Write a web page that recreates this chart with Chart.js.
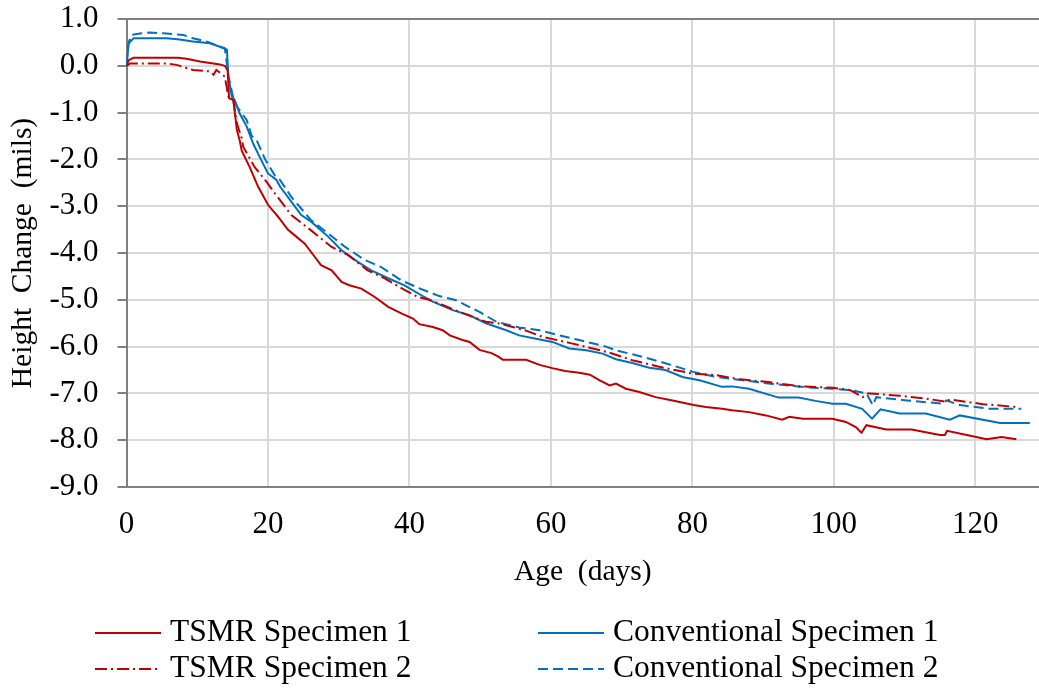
<!DOCTYPE html>
<html>
<head>
<meta charset="utf-8">
<title>Height Change vs Age</title>
<script src="https://cdn.jsdelivr.net/npm/chart.js@4.4.1/dist/chart.umd.min.js"></script>
<style>
  html, body { margin: 0; padding: 0; background: #fff; }
  #wrap { width: 1039px; height: 690px; }
</style>
</head>
<body>
<div id="wrap"><canvas id="chart" width="1039" height="690"></canvas></div>
<script>
// Series data (age in days, height change in mils)
const tsmr1Days = [0, 0.3, 1, 3, 5, 7.3, 8.5, 10.4, 11.8, 13.2, 13.9, 14.3, 14.5, 15.1, 15.6, 16.0, 16.3, 17.4, 18.6, 20, 21.4, 22.8, 24, 25.2, 26.6, 27.5, 29, 30.4, 31.5, 33.2, 35.1, 37, 39, 40.5, 41.4, 43.3, 44.7, 45.7, 47.5, 48.5, 49.9, 51.6, 52.5, 53.2, 56.5, 58.4, 60.2, 62, 64, 65.5, 66.9, 68.3, 69.2, 70.6, 72.5, 74.8, 77.2, 80.2, 81.9, 84.2, 85.6, 88, 90.4, 92.7, 93.7, 95.6, 99.8, 101.7, 103.1, 103.9, 104.6, 107.4, 111, 115, 115.7, 116, 118.8, 121.6, 123.7, 125.8];
const tsmr1Vals = [0, 0.12, 0.17, 0.17, 0.17, 0.17, 0.15, 0.09, 0.06, 0.03, 0.0, -0.1, -0.69, -0.73, -1.37, -1.59, -1.82, -2.16, -2.58, -2.97, -3.22, -3.5, -3.65, -3.8, -4.08, -4.26, -4.37, -4.62, -4.69, -4.76, -4.94, -5.15, -5.3, -5.4, -5.52, -5.58, -5.65, -5.76, -5.86, -5.9, -6.07, -6.14, -6.21, -6.28, -6.28, -6.39, -6.46, -6.52, -6.56, -6.6, -6.72, -6.83, -6.79, -6.9, -6.97, -7.08, -7.15, -7.25, -7.29, -7.33, -7.36, -7.4, -7.47, -7.56, -7.5, -7.54, -7.54, -7.61, -7.72, -7.84, -7.68, -7.77, -7.77, -7.89, -7.89, -7.8, -7.89, -7.98, -7.93, -7.98];

const tsmr2Days = [0, 0.5, 3, 5.7, 7.1, 9.4, 11.8, 12.3, 12.7, 13.9, 14.4, 15.1, 15.6, 16.3, 16.5, 18.1, 19.8, 21, 23.3, 25.7, 29, 31.3, 34.1, 36.5, 39.3, 41.2, 42.8, 44.7, 47.1, 50.8, 52.5, 54.6, 56.5, 58.8, 62.6, 65.9, 68.3, 71.5, 75.3, 80.1, 83.4, 86.7, 90.4, 95.2, 99.9, 102.3, 104.1, 104.8, 105.1, 109.3, 113, 115.9, 116.4, 121.1, 125.8];
const tsmr2Vals = [0, 0.05, 0.05, 0.05, 0.02, -0.09, -0.12, -0.19, -0.09, -0.23, -0.66, -0.73, -1.23, -1.55, -1.73, -2.16, -2.48, -2.73, -3.19, -3.47, -3.87, -4.04, -4.37, -4.54, -4.79, -4.94, -5.0, -5.11, -5.26, -5.47, -5.5, -5.58, -5.66, -5.79, -5.92, -6.04, -6.13, -6.29, -6.43, -6.58, -6.61, -6.7, -6.75, -6.85, -6.88, -6.93, -7.08, -7.0, -7.0, -7.05, -7.11, -7.18, -7.13, -7.23, -7.29];

const conv1Days = [0, 0.3, 1, 3.3, 5.7, 7.5, 9.4, 11.8, 13.9, 14.2, 14.4, 14.9, 15.3, 16, 17, 17.9, 18.8, 20, 21.2, 21.7, 22.8, 24.7, 26.1, 28.5, 30.4, 32.7, 34.6, 37, 39.3, 42.1, 43.3, 46.1, 48.5, 50.8, 53.7, 55.5, 57.9, 60.2, 62.6, 65, 67.3, 69.2, 71.5, 73.9, 76.2, 78.6, 81, 84.2, 85.6, 88, 92.2, 95, 97.4, 99.8, 101.7, 104, 105.4, 106.6, 109.3, 113, 116.4, 117.8, 123.5, 127.7];
const conv1Vals = [0, 0.48, 0.59, 0.59, 0.59, 0.56, 0.52, 0.48, 0.37, 0.34, -0.23, -0.66, -0.73, -1.02, -1.3, -1.66, -1.94, -2.3, -2.44, -2.58, -2.8, -3.19, -3.33, -3.65, -3.94, -4.19, -4.37, -4.54, -4.69, -4.94, -5.04, -5.22, -5.33, -5.5, -5.65, -5.76, -5.83, -5.9, -6.04, -6.08, -6.15, -6.27, -6.35, -6.45, -6.5, -6.65, -6.72, -6.86, -6.85, -6.9, -7.09, -7.09, -7.16, -7.22, -7.22, -7.33, -7.54, -7.34, -7.43, -7.43, -7.56, -7.47, -7.63, -7.63];

const conv2Days = [0, 0.3, 0.7, 1.9, 3.3, 5.7, 8, 9.4, 11.3, 13.9, 14.4, 15.1, 15.6, 17, 17.7, 18.4, 19.6, 21, 21.7, 23.3, 26.1, 28.5, 30.9, 33.7, 36, 38.8, 41.5, 44.2, 46.6, 49.9, 52.3, 55.5, 58.4, 61.2, 64, 67.8, 69.2, 73, 76.3, 80.1, 83.4, 87.2, 91.4, 96.1, 99.9, 102.3, 104.6, 105.5, 106, 110.3, 115.4, 115.9, 117.8, 122, 126.5];
const conv2Vals = [0.05, 0.5, 0.66, 0.69, 0.71, 0.69, 0.66, 0.59, 0.52, 0.37, -0.2, -0.7, -0.87, -1.16, -1.5, -1.59, -2.0, -2.35, -2.44, -2.8, -3.3, -3.58, -3.87, -4.15, -4.3, -4.58, -4.76, -4.92, -5.01, -5.26, -5.47, -5.59, -5.65, -5.76, -5.86, -6.0, -6.08, -6.22, -6.36, -6.54, -6.65, -6.72, -6.8, -6.87, -6.9, -6.93, -7.0, -7.25, -7.08, -7.15, -7.22, -7.15, -7.25, -7.33, -7.33];

const seriesNames = ['TSMR Specimen 1', 'TSMR Specimen 2', 'Conventional Specimen 1', 'Conventional Specimen 2'];
const yTicks = [1, 0, -1, -2, -3, -4, -5, -6, -7, -8, -9];
const xTicks = [0, 20, 40, 60, 80, 100, 120];

const RED = '#C00000';
const BLUE = '#0070C0';
const FONT = "'Liberation Serif', 'Times New Roman', serif";

function toPoints(days, vals) {
    return days.map((d, i) => ({ x: d, y: vals[i] }));
}

// Legend drawn in two columns like the original
const legendPlugin = {
    id: 'twoColLegend',
    afterDraw(chart) {
        const c = chart.ctx;
        const colX = [95, 538];
        const rowY = [633, 669];
        c.save();
        chart.data.datasets.forEach((ds, i) => {
            const col = Math.floor(i / 2);
            const row = i % 2;
            const x = colX[col];
            const y = rowY[row];
            c.strokeStyle = ds.borderColor;
            c.lineWidth = 2;
            c.setLineDash(ds.borderDash || []);
            c.beginPath();
            c.moveTo(x, y);
            c.lineTo(x + 66, y);
            c.stroke();
            c.setLineDash([]);
            c.fillStyle = '#000';
            c.font = '31.5px ' + FONT;
            c.textAlign = 'left';
            c.textBaseline = 'middle';
            c.fillText(ds.label, x + 75, y);
        });
        c.restore();
    }
};

const ctx = document.getElementById('chart').getContext('2d');
const chart = new Chart(ctx, {
    type: 'line',
    data: {
        datasets: [
            { label: seriesNames[0], data: toPoints(tsmr1Days, tsmr1Vals), borderColor: RED, borderDash: [] },
            { label: seriesNames[1], data: toPoints(tsmr2Days, tsmr2Vals), borderColor: RED, borderDash: [12, 4, 2, 4] },
            { label: seriesNames[2], data: toPoints(conv1Days, conv1Vals), borderColor: BLUE, borderDash: [] },
            { label: seriesNames[3], data: toPoints(conv2Days, conv2Vals), borderColor: BLUE, borderDash: [10, 5] }
        ]
    },
    options: {
        responsive: false,
        animation: false,
        devicePixelRatio: 1,
        layout: { padding: { top: 19, left: 6, right: 0, bottom: 100 } },
        elements: {
            line: { borderWidth: 2, tension: 0, fill: false },
            point: { radius: 0 }
        },
        plugins: {
            legend: { display: false },
            tooltip: { enabled: false }
        },
        scales: {
            x: {
                type: 'linear',
                min: 0,
                max: 129,
                afterBuildTicks(scale) {
                    scale.ticks = xTicks.map(v => ({ value: v }));
                },
                afterFit(scale) {
                    scale.height = 103;
                    scale.paddingLeft = 0;
                    scale.paddingRight = 0;
                },
                ticks: {
                    color: '#000',
                    font: { family: FONT, size: 31 },
                    padding: 19,
                    maxRotation: 0
                },
                grid: { color: '#d9d9d9', lineWidth: 2, drawTicks: false },
                border: { color: '#808080', width: 2 },
                title: {
                    display: true,
                    text: 'Age  (days)',
                    color: '#000',
                    font: { family: FONT, size: 29.5 },
                    padding: 0
                }
            },
            y: {
                min: -9,
                max: 1,
                afterBuildTicks(scale) {
                    scale.ticks = yTicks.map(v => ({ value: v }));
                },
                afterFit(scale) {
                    scale.width = 120.5;
                    scale.paddingTop = 0;
                    scale.paddingBottom = 0;
                },
                ticks: {
                    color: '#000',
                    font: { family: FONT, size: 31 },
                    padding: 19,
                    callback: v => v.toFixed(1)
                },
                grid: {
                    color: c => (c.tick && c.tick.value === 1) ? '#808080' : '#d9d9d9',
                    lineWidth: 2,
                    tickColor: '#808080',
                    tickLength: 9
                },
                border: { color: '#808080', width: 2 },
                title: {
                    display: true,
                    text: 'Height  Change  (mils)',
                    color: '#000',
                    font: { family: FONT, size: 29.5 },
                    padding: 0
                }
            }
        }
    },
    plugins: [legendPlugin]
});
</script>
</body>
</html>
